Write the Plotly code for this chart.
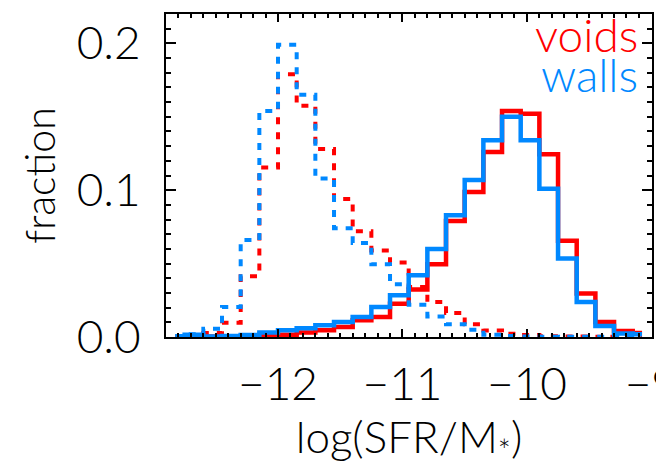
import plotly.graph_objects as go

# bin centres of log(SFR/M*) histograms (bin width 0.15)
bin_centers = [-12.825, -12.675, -12.525, -12.375, -12.225, -12.075, -11.925, -11.775,
               -11.625, -11.475, -11.325, -11.175, -11.025, -10.875, -10.725, -10.575,
               -10.425, -10.275, -10.125, -9.975, -9.825, -9.675, -9.525, -9.375,
               -9.225, -9.075]

# solid: star-forming population, dashed: quiescent population
voids_solid = [0.0, 0.0005, 0.0003, 0.0, 0.0003, 0.0007, 0.0016, 0.003, 0.0046, 0.0068,
               0.0114, 0.0136, 0.0227, 0.0323, 0.0495, 0.079, 0.0988, 0.126, 0.154, 0.152,
               0.1245, 0.0655, 0.0296, 0.0102, 0.0041, 0.0027]
walls_solid = [0.0005, 0.0016, 0.0004, 0.0007, 0.0014, 0.003, 0.0046, 0.006, 0.008, 0.0102,
               0.0136, 0.0205, 0.0284, 0.042, 0.060, 0.083, 0.107, 0.134, 0.150, 0.134,
               0.101, 0.0534, 0.0239, 0.0075, 0.0023, 0.0018]
voids_dashed = [0.0003, 0.0008, 0.0027, 0.0097, 0.0414, 0.1155, 0.179, 0.1575, 0.128, 0.094,
                0.072, 0.059, 0.0507, 0.034, 0.0239, 0.0164, 0.0087, 0.0045, 0.0022, 0.0013,
                0.0005, 0.0003, 0.0003, 0.0002, 0.0002, 0.0001]
walls_dashed = [0.0007, 0.0018, 0.0057, 0.0205, 0.066, 0.154, 0.199, 0.165, 0.108, 0.074,
                0.064, 0.0496, 0.036, 0.022, 0.014, 0.0087, 0.005, 0.0016, 0.0007, 0.0003,
                0.0002, 0.0001, 0.0001, 0.0001, 0.0001, 0.0001]

RED = "#ff0000"
BLUE = "#0088ff"
FONT = "Lato"

fig = go.Figure()
for ys, col, dash in [(voids_solid, RED, "solid"), (voids_dashed, RED, "7px,8px"),
                      (walls_solid, BLUE, "solid"), (walls_dashed, BLUE, "7px,8px")]:
    fig.add_trace(go.Scatter(x=bin_centers, y=ys, mode="lines",
                             line=dict(color=col, width=4.5 if dash == "solid" else 4,
                                       dash=dash, shape="hvh"),
                             showlegend=False, hoverinfo="skip"))

axis_common = dict(showline=True, linecolor="black", linewidth=2, mirror="allticks",
                   ticks="inside", tickcolor="black", tickwidth=2, showgrid=False,
                   zeroline=False, automargin=False, ticklabeloverflow="allow",
                   tickfont=dict(family=FONT, size=46, color="black", weight=300))

fig.update_xaxes(range=[-12.9, -8.995], tick0=-12, dtick=1, ticklen=8,
                 minor=dict(ticks="inside", dtick=0.1, ticklen=4, tickcolor="black", tickwidth=1.5),
                 ticklabelstandoff=6,
                 title=dict(text="log(SFR/M<sub>*</sub>)", standoff=11,
                            font=dict(family=FONT, size=44, color="black", weight=300)),
                 **axis_common)
fig.update_yaxes(range=[0, 0.22], tick0=0, dtick=0.1, tickformat=".1f", ticklen=10,
                 minor=dict(ticks="inside", dtick=0.01, ticklen=5, tickcolor="black", tickwidth=1.5),
                 ticklabelstandoff=14,
                 title=dict(text="fraction", standoff=8,
                            font=dict(family=FONT, size=41, color="black", weight=300)),
                 **axis_common)

fig.add_annotation(x=0.975, y=0.935, xref="paper", yref="paper", xanchor="right", yanchor="middle",
                   text="voids", showarrow=False,
                   font=dict(family=FONT, size=46, color=RED, weight=300))
fig.add_annotation(x=0.975, y=0.812, xref="paper", yref="paper", xanchor="right", yanchor="middle",
                   text="walls", showarrow=False,
                   font=dict(family=FONT, size=46, color=BLUE, weight=300))

# the page adds an 8px body margin, so the figure is drawn 8px smaller
fig.update_layout(width=656, height=467, margin=dict(l=158, r=12, t=6, b=138),
                  plot_bgcolor="white", paper_bgcolor="white")

fig.write_html("out.html")
